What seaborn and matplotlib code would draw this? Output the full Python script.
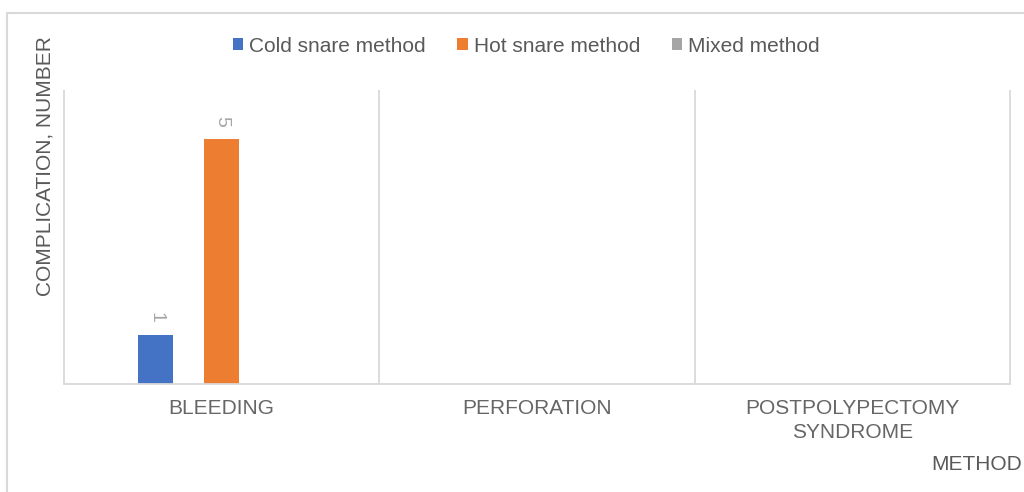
import matplotlib
matplotlib.use("Agg")
import matplotlib.pyplot as plt
from matplotlib.lines import Line2D
import seaborn as sns
import pandas as pd

# Complications recorded per polypectomy method
categories = ["BLEEDING", "PERFORATION", "POSTPOLYPECTOMY\nSYNDROME"]
methods = ["Cold snare method", "Hot snare method", "Mixed method"]
cold_snare = [1, 0, 0]
hot_snare = [5, 0, 0]
mixed = [0, 0, 0]
colors = ["#4472C4", "#ED7D31", "#A5A5A5"]

rows = []
for method, values in zip(methods, [cold_snare, hot_snare, mixed]):
    for cat, v in zip(categories, values):
        rows.append({"Complication": cat, "Method": method, "Count": v})
df = pd.DataFrame(rows)

sns.set_theme(style="white")
plt.rcParams["font.family"] = ["Liberation Sans", "DejaVu Sans"]

TEXT = "#595959"
GRID = "#D9D9D9"

fig = plt.figure(figsize=(10.24, 4.92), dpi=100)
ax = fig.add_axes([64 / 1024, 1 - 384 / 492, (1010 - 64) / 1024, (384 - 90) / 492])

sns.barplot(
    data=df, x="Complication", y="Count", hue="Method",
    order=categories, hue_order=methods, palette=colors, saturation=1,
    width=0.628, gap=0.47, errorbar=None, linewidth=0, ax=ax,
)

# value labels, skipping empty cells
for container, values in zip(ax.containers, [cold_snare, hot_snare, mixed]):
    labels = [str(v) if v else "" for v in values]
    ax.bar_label(container, labels=labels, rotation=270, padding=9,
                 color="#A6A6A6", fontsize=14)

ax.set_ylim(0, 6)
ax.set_xlim(-0.5, len(categories) - 0.5)
ax.set_yticks([])
ax.set_xlabel("")
ax.set_ylabel("")
ax.tick_params(axis="x", length=0, pad=11, labelsize=15, labelcolor="#666666")
for lbl in ax.get_xticklabels():
    lbl.set_linespacing(1.3)

for side in ("top", "right", "left"):
    ax.spines[side].set_visible(False)
ax.spines["bottom"].set_color(GRID)
ax.spines["bottom"].set_linewidth(1.3)

# category separators
bounds = [i - 0.5 for i in range(len(categories) + 1)]
ax.vlines(bounds, 0, 6, color=GRID, lw=1.3, clip_on=False, zorder=0)

handles, labels = ax.get_legend_handles_labels()
ax.get_legend().remove()
fig.legend(handles, labels, loc="center", bbox_to_anchor=(0.514, 0.906),
           ncol=3, frameon=False, fontsize=15, handlelength=0.5,
           handleheight=0.5, handletextpad=0.3, columnspacing=1.5,
           labelcolor=TEXT)

fig.text(45 / 1024, 1 - 166 / 492, "COMPLICATION, NUMBER", rotation=90,
         ha="center", va="center", fontsize=15, color=TEXT)
fig.text(1022 / 1024, 1 - 465 / 492, "METHOD", ha="right", va="center",
         fontsize=15, color=TEXT)

# chart frame
fig.add_artist(Line2D([7 / 1024, 7 / 1024, 1.0], [0, 1 - 13 / 492, 1 - 13 / 492],
                      color=GRID, lw=1.5, transform=fig.transFigure))

fig.savefig("out.png", dpi=100)
